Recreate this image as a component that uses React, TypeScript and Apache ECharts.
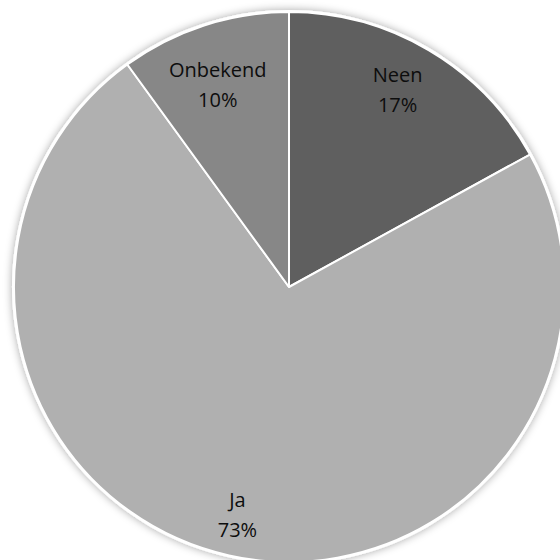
import React, { useEffect, useRef } from "react";
import * as echarts from "echarts";

// Slice names and their shares in percent, clockwise from twelve o'clock
const categories = ["Neen", "Ja", "Onbekend"];
const shares = [17, 73, 10];
const sliceColors = ["#5f5f5f", "#b0b0b0", "#878787"];

// small per-slice label nudges (px), in slice order
const LABEL_NUDGE: [number, number][] = [
  [-7, -2],
  [-2, 6],
  [-1, 14],
];

const CX = 289;
const CY = 287;
const R = 275;

export default function App() {
  const ref = useRef<HTMLDivElement>(null);

  useEffect(() => {
    if (!ref.current) return;
    const chart = echarts.init(ref.current, null, { renderer: "svg" });

    const data = categories.map((name, i) => ({
      name,
      value: shares[i],
      itemStyle: { color: sliceColors[i] },
    }));

    chart.setOption({
      animation: false,
      backgroundColor: "#ffffff",
      series: [
        {
          // soft drop shadow behind the whole pie
          type: "pie",
          silent: true,
          center: [CX, CY],
          radius: R + 2,
          label: { show: false },
          labelLine: { show: false },
          itemStyle: {
            color: "#ffffff",
            shadowBlur: 8,
            shadowColor: "rgba(0,0,0,0.35)",
          },
          data: [{ value: 1, name: "" }],
        },
        {
          type: "pie",
          center: [CX, CY],
          radius: R,
          startAngle: 90,
          clockwise: true,
          label: { show: false },
          labelLine: { show: false },
          itemStyle: { borderColor: "#ffffff", borderWidth: 2 },
          data,
        },
        {
          // transparent ring carrying the category and percentage labels
          type: "pie",
          silent: true,
          center: [CX, CY],
          radius: [R * 0.63, R],
          startAngle: 90,
          clockwise: true,
          itemStyle: { color: "transparent" },
          labelLine: { show: false },
          label: {
            show: true,
            position: "inside",
            formatter: (p: any) => `${p.name}\n${p.value}%`,
            fontFamily: "Open Sans",
            fontSize: 20,
            lineHeight: 30,
            color: "#0d0d0d",
          },
          labelLayout: (p: any) => {
            const n = LABEL_NUDGE[p.dataIndex] || [0, 0];
            return { dx: n[0], dy: n[1] };
          },
          data: categories.map((name, i) => ({ name, value: shares[i] })),
        },
      ],
    });

    return () => chart.dispose();
  }, []);

  return (
    <div
      ref={ref}
      style={{ position: "fixed", left: 0, top: 0, width: 560, height: 560 }}
    />
  );
}
